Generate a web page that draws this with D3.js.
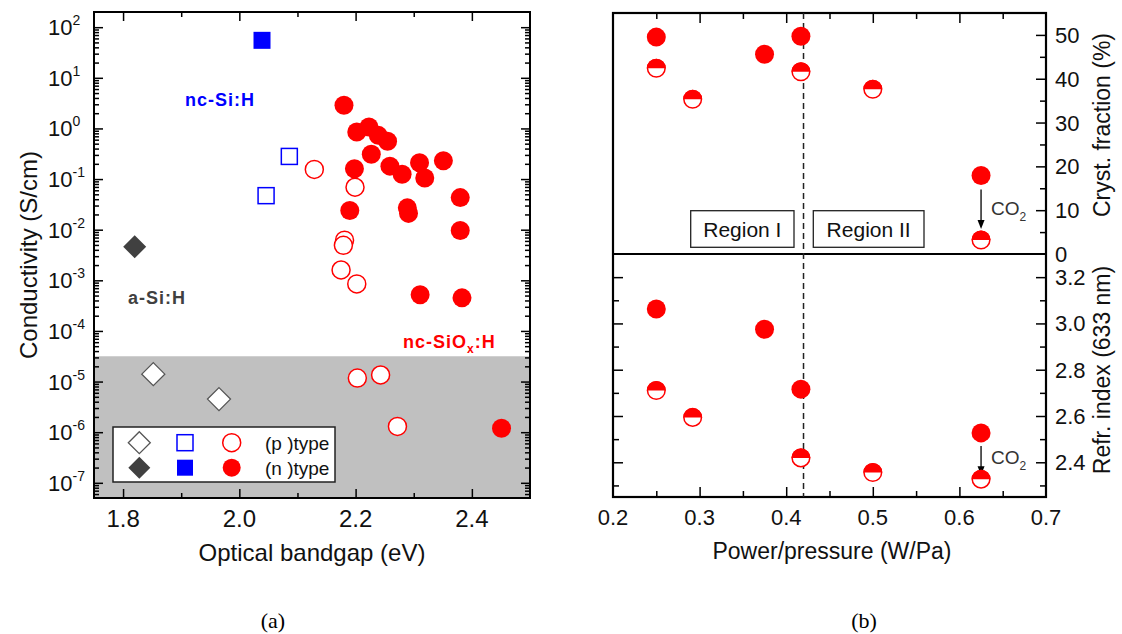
<!DOCTYPE html>
<html>
<head>
<meta charset="utf-8">
<script src="https://cdn.jsdelivr.net/npm/d3@7"></script>
<style>
  body { margin: 0; background: #fff; }
  svg { display: block; }
</style>
</head>
<body>
<script>
// ---- panel (a): conductivity vs optical bandgap ----
const aSiP_x = [1.852, 1.965];
const aSiP_y = [1.4e-5, 4.5e-6];
const aSiN_x = [1.82];
const aSiN_y = [4.6e-3];
const ncSiP_x = [2.046, 2.086];
const ncSiP_y = [0.047, 0.28];
const ncSiN_x = [2.039];
const ncSiN_y = [55];
const ncSiOxP_x = [2.129, 2.199, 2.181, 2.179, 2.175, 2.202, 2.203, 2.243, 2.272];
const ncSiOxP_y = [0.155, 0.069, 0.0062, 0.0049, 0.0016, 8.5e-4, 1.17e-5, 1.35e-5, 1.3e-6];
const ncSiOxN_x = [2.180, 2.202, 2.223, 2.239, 2.255, 2.227, 2.259, 2.280, 2.310, 2.319, 2.351, 2.198,
                   2.380, 2.190, 2.289, 2.291, 2.380, 2.311, 2.383, 2.451];
const ncSiOxN_y = [2.86, 0.85, 1.07, 0.73, 0.56, 0.31, 0.18, 0.124, 0.21, 0.105, 0.23, 0.16,
                   0.043, 0.024, 0.027, 0.021, 0.0096, 5.2e-4, 4.5e-4, 1.2e-6];
const shadeLimit = 3.16e-5;
const xTicksA = [1.8, 2.0, 2.2, 2.4];
const xMinorA = [1.9, 2.1, 2.3];
const xLabelsA = ["1.8", "2.0", "2.2", "2.4"];
const yExpA = [-7, -6, -5, -4, -3, -2, -1, 0, 1, 2];

// ---- panel (b): crystalline fraction / refractive index vs power/pressure ----
const crystN_x = [0.25, 0.375, 0.417, 0.625];
const crystN_y = [49.5, 45.6, 49.7, 17.9];
const crystH_x = [0.25, 0.292, 0.417, 0.5, 0.625];
const crystH_y = [42.4, 35.3, 41.6, 37.6, 3.2];
const refrN_x = [0.25, 0.375, 0.417, 0.625];
const refrN_y = [3.062, 2.975, 2.716, 2.527];
const refrH_x = [0.25, 0.292, 0.417, 0.5, 0.625];
const refrH_y = [2.710, 2.594, 2.419, 2.356, 2.327];
const regionBorder = 0.42;
const xTicksB = [0.2, 0.3, 0.4, 0.5, 0.6, 0.7];
const xLabelsB = ["0.2", "0.3", "0.4", "0.5", "0.6", "0.7"];
const xMinorB = [0.25, 0.35, 0.45, 0.55, 0.65];
const crystTicks = [0, 10, 20, 30, 40, 50];
const crystMinor = [5, 15, 25, 35, 45];
const refrTicks = [2.4, 2.6, 2.8, 3.0, 3.2];
const refrLabels = ["2.4", "2.6", "2.8", "3.0", "3.2"];
const refrMinor = [2.3, 2.5, 2.7, 2.9, 3.1];

const font = "'Liberation Sans', Arial, sans-serif";
const RED = "#ff0000", BLUE = "#0000ff", GREY = "#404040";

const svg = d3.select("body").append("svg").attr("width", 1122).attr("height", 634)
  .style("font-family", font);

function ticks(g, axis, size, vals) {
  g.call(axis.tickValues(vals).tickSize(size).tickFormat(""));
  g.select(".domain").remove();
  g.selectAll(".tick line").attr("stroke", "#000").attr("stroke-width", 1.5);
}

// ================= panel (a) =================
const xA = d3.scaleLinear().domain([1.75, 2.5]).range([94, 530]);
const yA = d3.scaleLog().domain([Math.pow(10, -7.3), Math.pow(10, 2.3)]).range([498, 12]);

const A = svg.append("g");
A.append("rect")
  .attr("x", xA.range()[0]).attr("y", yA(shadeLimit))
  .attr("width", xA.range()[1] - xA.range()[0]).attr("height", yA.range()[0] - yA(shadeLimit))
  .attr("fill", "#c0c0c0");

const yMajA = yExpA.map(e => Math.pow(10, e));
const yMinA = yA.ticks(20).filter(v => Math.abs(Math.log10(v) - Math.round(Math.log10(v))) > 1e-6);

ticks(A.append("g").attr("transform", "translate(0,498)"), d3.axisBottom(xA), -9, xTicksA);
ticks(A.append("g").attr("transform", "translate(0,498)"), d3.axisBottom(xA), -5, xMinorA);
ticks(A.append("g").attr("transform", "translate(0,12)"), d3.axisTop(xA), -9, xTicksA);
ticks(A.append("g").attr("transform", "translate(0,12)"), d3.axisTop(xA), -5, xMinorA);
ticks(A.append("g").attr("transform", "translate(94,0)"), d3.axisLeft(yA), -9, yMajA);
ticks(A.append("g").attr("transform", "translate(94,0)"), d3.axisLeft(yA), -5, yMinA);
ticks(A.append("g").attr("transform", "translate(530,0)"), d3.axisRight(yA), -9, yMajA);
ticks(A.append("g").attr("transform", "translate(530,0)"), d3.axisRight(yA), -5, yMinA);

A.append("rect").attr("x", 94).attr("y", 12).attr("width", 436).attr("height", 486)
  .attr("fill", "none").attr("stroke", "#000").attr("stroke-width", 2);

A.selectAll(".xlab").data(xTicksA).enter().append("text")
  .attr("x", d => xA(d)).attr("y", 527).attr("text-anchor", "middle")
  .attr("font-size", 24).attr("fill", "#111").text((d, i) => xLabelsA[i]);

const ylab = A.selectAll(".ylab").data(yExpA).enter().append("text")
  .attr("x", 48).attr("y", d => yA(Math.pow(10, d)) + 8)
  .attr("font-size", 22).attr("fill", "#111");
ylab.append("tspan").text("10");
ylab.append("tspan").attr("font-size", 14).attr("dy", -10).text(d => d);

A.append("text").attr("transform", "translate(37,255) rotate(-90)")
  .attr("text-anchor", "middle").attr("font-size", 24).attr("fill", "#111")
  .text("Conductivity (S/cm)");
A.append("text").attr("x", 312).attr("y", 561).attr("text-anchor", "middle")
  .attr("font-size", 24).attr("fill", "#111").text("Optical bandgap (eV)");

// markers
const diamond = s => `M0,${-s}L${s},0L0,${s}L${-s},0Z`;
function pts(xs, ys, sx, sy) { return xs.map((x, i) => [sx(x), sy(ys[i])]); }

A.selectAll(".dp").data(pts(aSiP_x, aSiP_y, xA, yA)).enter().append("path")
  .attr("d", diamond(11.5)).attr("transform", d => `translate(${d[0]},${d[1]})`)
  .attr("fill", "#fff").attr("stroke", "#555").attr("stroke-width", 1.3);
A.selectAll(".dn").data(pts(aSiN_x, aSiN_y, xA, yA)).enter().append("path")
  .attr("d", diamond(11.5)).attr("transform", d => `translate(${d[0]},${d[1]})`)
  .attr("fill", GREY);
A.selectAll(".sp").data(pts(ncSiP_x, ncSiP_y, xA, yA)).enter().append("rect")
  .attr("x", d => d[0] - 8).attr("y", d => d[1] - 8).attr("width", 16).attr("height", 16)
  .attr("fill", "#fff").attr("stroke", BLUE).attr("stroke-width", 1.5);
A.selectAll(".sn").data(pts(ncSiN_x, ncSiN_y, xA, yA)).enter().append("rect")
  .attr("x", d => d[0] - 8.5).attr("y", d => d[1] - 8.5).attr("width", 17).attr("height", 17)
  .attr("fill", BLUE);
A.selectAll(".cp").data(pts(ncSiOxP_x, ncSiOxP_y, xA, yA)).enter().append("circle")
  .attr("cx", d => d[0]).attr("cy", d => d[1]).attr("r", 9)
  .attr("fill", "#fff").attr("stroke", RED).attr("stroke-width", 1.5);
A.selectAll(".cn").data(pts(ncSiOxN_x, ncSiOxN_y, xA, yA)).enter().append("circle")
  .attr("cx", d => d[0]).attr("cy", d => d[1]).attr("r", 9.5).attr("fill", RED);

// material labels
A.append("text").attr("x", 185).attr("y", 106).attr("font-size", 18).attr("font-weight", "bold")
  .attr("letter-spacing", 1).attr("fill", BLUE).text("nc-Si:H");
A.append("text").attr("x", 128).attr("y", 304).attr("font-size", 18).attr("font-weight", "bold")
  .attr("letter-spacing", 1).attr("fill", GREY).text("a-Si:H");
const ox = A.append("text").attr("x", 403).attr("y", 348).attr("font-size", 18).attr("font-weight", "bold")
  .attr("letter-spacing", 1).attr("fill", RED);
ox.append("tspan").text("nc-SiO");
ox.append("tspan").attr("font-size", 12).attr("dy", 5).text("x");
ox.append("tspan").attr("dy", -5).text(":H");

// legend
const L = A.append("g");
L.append("rect").attr("x", 113).attr("y", 427).attr("width", 222).attr("height", 55)
  .attr("fill", "#fff").attr("stroke", "#222").attr("stroke-width", 1.5);
[442.7, 467.7].forEach((ly, row) => {
  const filled = row === 1;
  L.append("path").attr("d", diamond(11)).attr("transform", `translate(139.3,${ly})`)
    .attr("fill", filled ? GREY : "#fff").attr("stroke", filled ? "none" : "#555").attr("stroke-width", 1.3);
  L.append("rect").attr("x", 185 - 8).attr("y", ly - 8).attr("width", 16).attr("height", 16)
    .attr("fill", filled ? BLUE : "#fff").attr("stroke", filled ? "none" : BLUE).attr("stroke-width", 1.5);
  L.append("circle").attr("cx", 231.7).attr("cy", ly).attr("r", 9)
    .attr("fill", filled ? RED : "#fff").attr("stroke", filled ? "none" : RED).attr("stroke-width", 1.5);
  L.append("text").attr("x", 265).attr("y", ly + 7).attr("font-size", 19).attr("fill", "#111")
    .text(filled ? "(n )type" : "(p )type");
});

// ================= panel (b) =================
const xB = d3.scaleLinear().domain([0.2, 0.7]).range([613, 1046]);
const yTop = d3.scaleLinear().domain([0, 55]).range([254, 13]);
const yBot = d3.scaleLinear().domain([2.25, 3.3]).range([497, 254]);
const B = svg.append("g");

ticks(B.append("g").attr("transform", "translate(0,497)"), d3.axisBottom(xB), -10, xTicksB.slice(1, -1));
ticks(B.append("g").attr("transform", "translate(0,497)"), d3.axisBottom(xB), -6, xMinorB);
ticks(B.append("g").attr("transform", "translate(0,13)"), d3.axisTop(xB), -10, xTicksB.slice(1, -1));
ticks(B.append("g").attr("transform", "translate(0,13)"), d3.axisTop(xB), -6, xMinorB);
ticks(B.append("g").attr("transform", "translate(1046,0)"), d3.axisRight(yTop), -10, crystTicks.slice(1));
ticks(B.append("g").attr("transform", "translate(1046,0)"), d3.axisRight(yTop), -6, crystMinor);
ticks(B.append("g").attr("transform", "translate(1046,0)"), d3.axisRight(yBot), -10, refrTicks);
ticks(B.append("g").attr("transform", "translate(1046,0)"), d3.axisRight(yBot), -6, refrMinor);
ticks(B.append("g").attr("transform", "translate(613,0)"), d3.axisLeft(yBot), -10, refrTicks);
ticks(B.append("g").attr("transform", "translate(613,0)"), d3.axisLeft(yBot), -6, refrMinor);

B.append("rect").attr("x", 613).attr("y", 13).attr("width", 433).attr("height", 484)
  .attr("fill", "none").attr("stroke", "#000").attr("stroke-width", 2.2);
B.append("line").attr("x1", 613).attr("x2", 1046).attr("y1", yTop(0)).attr("y2", yTop(0))
  .attr("stroke", "#000").attr("stroke-width", 2.2);

B.append("line").attr("x1", xB(regionBorder)).attr("x2", xB(regionBorder)).attr("y1", 13).attr("y2", 497)
  .attr("stroke", "#222").attr("stroke-width", 1.5).attr("stroke-dasharray", "6,4");

[["Region I", 690.7, 794], ["Region II", 813.3, 924]].forEach(r => {
  B.append("rect").attr("x", r[1]).attr("y", 210.7).attr("width", r[2] - r[1]).attr("height", 36.6)
    .attr("fill", "#fff").attr("stroke", "#222").attr("stroke-width", 1.3);
  B.append("text").attr("x", (r[1] + r[2]) / 2).attr("y", 236.5).attr("text-anchor", "middle")
    .attr("font-size", 21).attr("fill", "#111").text(r[0]);
});

B.selectAll(".xlb").data(xTicksB).enter().append("text")
  .attr("x", d => xB(d)).attr("y", 525).attr("text-anchor", "middle")
  .attr("font-size", 22).attr("fill", "#111").text((d, i) => xLabelsB[i]);
B.selectAll(".ylt").data(crystTicks).enter().append("text")
  .attr("x", 1055).attr("y", d => yTop(d) + 8).attr("font-size", 22).attr("fill", "#111").text(d => d);
B.selectAll(".ylb").data(refrTicks).enter().append("text")
  .attr("x", 1055).attr("y", d => yBot(d) + 8).attr("font-size", 22).attr("fill", "#111")
  .text((d, i) => refrLabels[i]);

B.append("text").attr("transform", "translate(1110,125) rotate(-90)").attr("text-anchor", "middle")
  .attr("font-size", 23).attr("fill", "#111").text("Cryst. fraction (%)");
B.append("text").attr("transform", "translate(1110,370) rotate(-90)").attr("text-anchor", "middle")
  .attr("font-size", 23).attr("fill", "#111").text("Refr. index (633 nm)");
B.append("text").attr("x", 832).attr("y", 559).attr("text-anchor", "middle")
  .attr("font-size", 23).attr("fill", "#111").text("Power/pressure (W/Pa)");

// CO2 arrows
function co2(xv, y1, y2, ty) {
  const x = xB(xv);
  B.append("line").attr("x1", x).attr("x2", x).attr("y1", y1).attr("y2", y2 - 7)
    .attr("stroke", "#000").attr("stroke-width", 1.3);
  B.append("path").attr("d", `M${x - 3.5},${y2 - 9}L${x + 3.5},${y2 - 9}L${x},${y2}Z`).attr("fill", "#000");
  const t = B.append("text").attr("x", x + 10).attr("y", ty).attr("font-size", 19).attr("fill", "#333");
  t.append("tspan").text("CO");
  t.append("tspan").attr("font-size", 12).attr("dy", 6).text("2");
}
co2(crystN_x[3], yTop(crystN_y[3]) + 14, yTop(crystH_y[4]) - 11, 215);
co2(refrN_x[3], yBot(refrN_y[3]) + 13, yBot(refrH_y[4]) - 4, 464);

function filledPts(xs, ys, sy) {
  B.selectAll(null).data(pts(xs, ys, xB, sy)).enter().append("circle")
    .attr("cx", d => d[0]).attr("cy", d => d[1]).attr("r", 9.5).attr("fill", RED);
}
function halfPts(xs, ys, sy) {
  const g = B.selectAll(null).data(pts(xs, ys, xB, sy)).enter().append("g")
    .attr("transform", d => `translate(${d[0]},${d[1]})`);
  g.append("circle").attr("r", 8.8).attr("fill", "#fff").attr("stroke", RED).attr("stroke-width", 1.5);
  g.append("path").attr("d", "M-9.5,0A9.5,9.5 0 0 1 9.5,0Z").attr("fill", RED);
}
filledPts(crystN_x, crystN_y, yTop);
halfPts(crystH_x, crystH_y, yTop);
filledPts(refrN_x, refrN_y, yBot);
halfPts(refrH_x, refrH_y, yBot);

// captions
svg.append("text").attr("x", 273).attr("y", 628).attr("text-anchor", "middle")
  .attr("font-family", "'Liberation Serif', 'DejaVu Serif', serif").attr("font-size", 22).text("(a)");
svg.append("text").attr("x", 864).attr("y", 628).attr("text-anchor", "middle")
  .attr("font-family", "'Liberation Serif', 'DejaVu Serif', serif").attr("font-size", 22).text("(b)");
</script>
</body>
</html>
